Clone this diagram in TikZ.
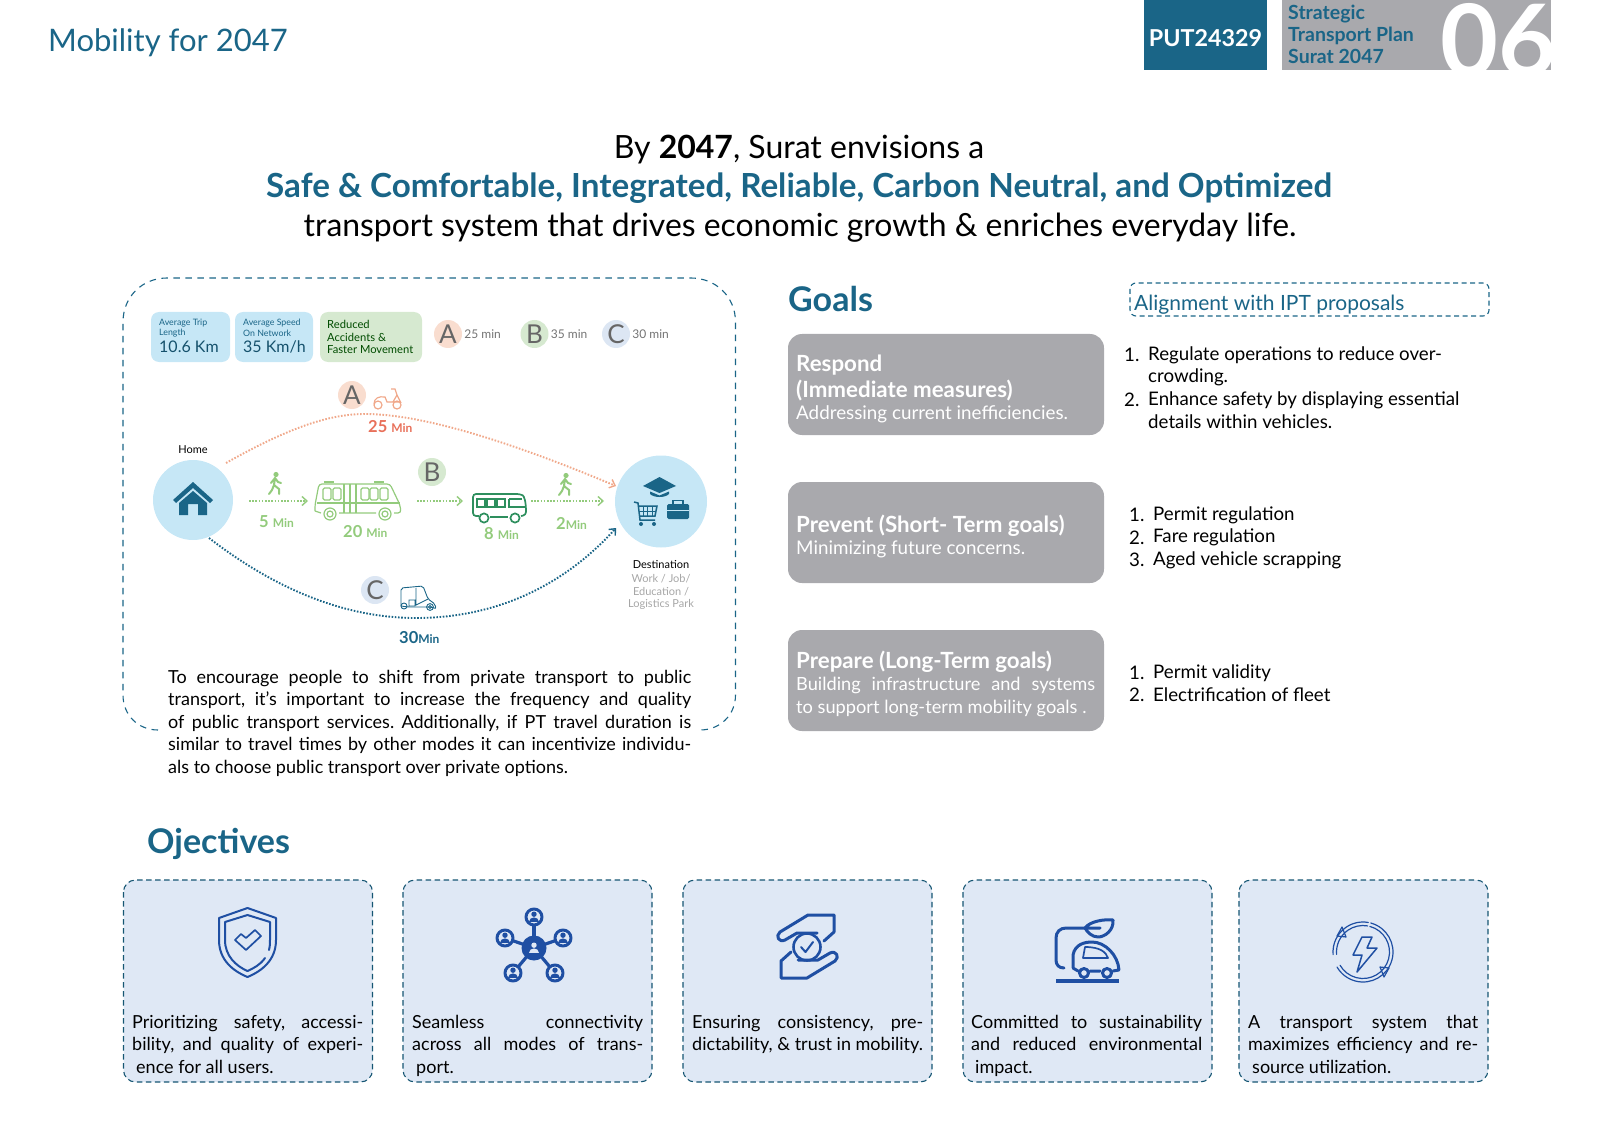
\documentclass[tikz,border=0pt]{standalone}
\usepackage{fontspec}
\usetikzlibrary{arrows.meta}
\setmainfont{Lato}
\definecolor{tealMain}{HTML}{1A6587}
\definecolor{greyBox}{HTML}{A9A9AD}
\definecolor{skyCard}{HTML}{C6E7F6}
\definecolor{greenCard}{HTML}{D6E9D0}
\definecolor{peachDot}{HTML}{F9DDCF}
\definecolor{blueDot}{HTML}{DCE6F3}
\definecolor{blueCard}{HTML}{DFE8F5}
\definecolor{routeA}{HTML}{F0A88A}
\definecolor{routeB}{HTML}{93CB7C}
\definecolor{timeRed}{HTML}{E8705A}
\definecolor{iconBlue}{HTML}{1F4FA3}
\definecolor{darkGreen}{HTML}{2E8F5E}
\newcommand\pxfont[2]{\fontsize{#1}{#2}\selectfont}
\newcommand\cardTop{880}
\newcommand\cardBot{1082}
\newcommand\cardWidth{249}
\newcommand\walker[1]{\begin{scope}[shift={#1}]
    \fill[routeB] (7,2.5) circle (2.6);
    \draw[routeB,line width=2,line cap=round] (6,6) -- (5,13) -- (10,17) -- (10,22) (5,13) -- (3,18) -- (0,22) (6,6) -- (2,11) (6,6) -- (9,10) -- (12,11);
  \end{scope}}
\newcommand\person[3]{% x, y, colour
    \fill[#3] (#1,#2-2.8) circle (2.7);
    \fill[#3] (#1-4.8,#2+4.6) .. controls (#1-4.8,#2-.8) and (#1+4.8,#2-.8) .. (#1+4.8,#2+4.6) -- cycle;}
\newcommand\handShape{(834,915) -- (808,915) -- (780,932) .. controls (775,936) and (779,943) .. (785,940) -- (797,933) -- (817,933) (834,915) -- (834,932) -- (824,941)}
\tikzset{
  txt/.style={inner sep=0pt,anchor=west,yshift=-2pt},
  ctr/.style={inner sep=0pt,anchor=center,yshift=-2pt},
  route/.style={line width=1.9,dash pattern=on 1.6pt off 1.6pt,>={Straight Barb[length=5pt,width=9pt,line width=1.4pt]}},
  letterdot/.style={circle,inner sep=0pt,minimum size=28,text=black!60,font=\pxfont{26}{26}},
  infocard/.style={rounded corners=8,fill=#1},
  goalbox/.style={rounded corners=14,fill=greyBox},
  objcard/.style={rounded corners=12,fill=blueCard,draw=tealMain!85!black,line width=1.1,dash pattern=on 5.5pt off 3.5pt},
  objtext/.style={inner sep=0pt,anchor=north west,text width=231,align=justify,font=\pxfont{18}{22.4}},
  icon/.style={iconBlue,line width=2.6,line join=round,line cap=round}
}
\begin{document}
\frenchspacing
\begin{tikzpicture}[x=1pt,y=-1pt]
  \useasboundingbox (0,0) rectangle (1600,1131);
  \tolerance=9999

  % HEADER
  \node[txt,text=tealMain,font=\pxfont{31}{31}] (pageTitle) at (48,41) {Mobility for 2047};
  \fill[tealMain] (1144,0) rectangle (1267,70);
  \node[ctr,text=white,font=\pxfont{23.3}{23.3}\bfseries] (codeTag) at (1205.5,36) {PUT24329};
  \fill[greyBox] (1282,0) rectangle (1551,70);
  \foreach \Lnumber/\Ly/\Ltext in {1/12/Strategic,2/34/Transport Plan,3/54/Surat 2047}{
    \node[txt,text=tealMain,font=\pxfont{19.5}{19.5}\bfseries] (planLine\Lnumber) at (1288,\Ly) {\Ltext};
  }
  \begin{scope}
    \clip (1282,0) rectangle (1551,70);
    \node[txt,text=white,font=\pxfont{100}{100}\bfseries] (chapterNo) at (1440,38) {06};
  \end{scope}

  % HEADLINE
  \node[ctr,font=\pxfont{32}{32}] (headOne) at (799,148) {By \textbf{2047}, Surat envisions a};
  \node[ctr,text=tealMain,font=\pxfont{33.2}{33.2}\bfseries] (headTwo) at (799,186) {Safe \& Comfortable, Integrated, Reliable, Carbon Neutral, and Optimized};
  \node[ctr,font=\pxfont{31.9}{31.9}] (headThree) at (800,225.5) {transport system that drives economic growth \& enriches everyday life.};

  % BIG DASHED FRAME
  \draw[tealMain,line width=1.1,dash pattern=on 6.5pt off 5.5pt] (158,730) .. controls (138,730) and (123,715) .. (123,695) -- (123,322) .. controls (123,297) and (142,278) .. (167,278) -- (691,278) .. controls (716,278) and (735.5,297) .. (735.5,322) -- (735.5,695) .. controls (735.5,715) and (720,730) .. (700,730);

  % INFO CARDS
  \fill[infocard=skyCard] (151,312) rectangle (230,362);
  \fill[infocard=skyCard] (235,312) rectangle (313,362);
  \fill[infocard=greenCard] (320,312) rectangle (422,362);
  \foreach \Cname/\Cx/\Cone/\Ctwo/\Cval in {trip/159/Average Trip/Length/10.6 Km,speed/243/Average Speed/On Network/{35 Km/h}}{
    \node[txt,text=tealMain,font=\pxfont{8.8}{8.8}] (\Cname One) at (\Cx,321) {\Cone};
    \node[txt,text=tealMain,font=\pxfont{8.8}{8.8}] (\Cname Two) at (\Cx,331) {\Ctwo};
    \node[txt,text=tealMain!80!black,font=\pxfont{16}{16}] (\Cname Val) at (\Cx,345) {\Cval};
  }
  \foreach \Rnumber/\Ry/\Rtext in {1/322/Reduced,2/335/Accidents \&,3/348/Faster Movement}{
    \node[txt,text=green!30!black,font=\pxfont{11.2}{11.2}] (reduced\Rnumber) at (327,\Ry) {\Rtext};
  }

  % LEGEND
  \foreach \Dname/\Dx/\Dfill/\Dtime in {A/448/peachDot/25,B/534.5/greenCard/35,C/616/blueDot/30}{
    \node[letterdot,fill=\Dfill] (legend\Dname) at (\Dx,334) {\Dname};
    \node[inner sep=0pt,anchor=west,text=black!55,font=\pxfont{12}{12},right=2pt] (legendTime\Dname) at (legend\Dname.east) {\Dtime{} min};
  }

  % HOME AND DESTINATION
  \node[circle,fill=skyCard,minimum size=80,inner sep=0pt] (home) at (193,500) {};
  \node[circle,fill=skyCard,minimum size=92,inner sep=0pt] (dest) at (661,501.5) {};
  \node[ctr,font=\pxfont{11}{11}] (homeLabel) at (193,448) {Home};
  \node[ctr,font=\pxfont{11}{11}] (destLabel) at (661,563) {Destination};
  \foreach \Lnumber/\Ly/\Ltext in {1/576.5/{Work / Job/},2/589.5/{Education /},3/602.5/Logistics Park}{
    \node[ctr,text=black!35,font=\pxfont{11}{11}] (destLine\Lnumber) at (661,\Ly) {\Ltext};
  }
  % house
  \fill[tealMain] (193,482) -- (213,500) -- (210,503) -- (193,488) -- (176,503) -- (173,500) -- cycle;
  \fill[tealMain] (179,503) -- (193,491) -- (207,503) -- (207,515) -- (198,515) -- (198,504) -- (188,504) -- (188,515) -- (179,515) -- cycle;
  % graduation cap, cart, case
  \fill[tealMain] (643,486) -- (659.5,477) -- (676,486) -- (659.5,493) -- cycle;
  \fill[tealMain] (650,491.5) -- (659.5,495.5) -- (669,491.5) -- (669,494) .. controls (665,498) and (654,498) .. (650,494) -- cycle;
  \draw[tealMain,line width=1.5] (634,502) -- (638,503) -- (640,520) -- (655,520) (638.5,506) -- (657,506) -- (655,516) -- (639.5,516);
  \draw[tealMain,line width=.8] (643,506) -- (643,516) (647.5,506) -- (647.5,516) (652,506) -- (652,516) (639,511) -- (656,511);
  \fill[tealMain] (641,524) circle (2) (654,524) circle (2);
  \fill[tealMain,rounded corners=1.5] (667,504) rectangle (689,519);
  \draw[tealMain,line width=1.4] (673,504) -- (673,500.5) -- (683,500.5) -- (683,504);
  \draw[skyCard,line width=.9] (667,510.5) -- (689,510.5);

  % ROUTE A
  \coordinate (startA) at (226,463);
  \coordinate (midA) at (365,414);
  \coordinate (endA) at (616,486);
  \draw[route,routeA,->] (startA) .. controls (290,427) and (330,414) .. (midA) .. controls (430,414) and (530,450) .. (endA);
  \node[letterdot,fill=peachDot] (routeDotA) at (352,395) {A};
  \node[txt,text=timeRed,font=\pxfont{16.5}{16.5}\bfseries] (timeA) at (368,425) {25 \pxfont{12}{12}Min};
  % moped
  \begin{scope}[routeA,line width=1.2,shift={(373,388)}]
    \draw (5,17) circle (4) (24,17) circle (4);
    \draw (1,16) .. controls (1,10) and (6,8) .. (12,9) -- (14,14) -- (20,14) -- (24,7) -- (22,1) -- (18,1);
    \draw (20,14) -- (27,14) (24,7) -- (28,15);
  \end{scope}

  % ROUTE B
  \coordinate (walkOneFrom) at (249,501);
  \coordinate (walkOneTo) at (308,501);
  \coordinate (busFrom) at (417,501);
  \coordinate (busTo) at (463,501);
  \coordinate (walkTwoFrom) at (531,501);
  \coordinate (walkTwoTo) at (604,501);
  \draw[route,routeB,->] (walkOneFrom) -- (walkOneTo);
  \draw[route,routeB,->] (busFrom) -- (busTo);
  \draw[route,routeB,->] (walkTwoFrom) -- (walkTwoTo);
  \walker{(269,472)}
  \walker{(559,473)}
  \node[letterdot,fill=greenCard] (routeDotB) at (432,472) {B};
  \foreach \Tname/\Tx/\Ty/\Tmain/\Tgap in {one/259/520/5/\ ,two/343/530/20/\ ,three/484/532/8/\ ,four/556/521/2/}{
    \node[txt,text=routeB,font=\pxfont{16.5}{16.5}\bfseries] (timeB\Tname) at (\Tx,\Ty) {\Tmain\Tgap\pxfont{12}{12}Min};
  }
  % big bus
  \begin{scope}[routeB,line width=1.2,shift={(314,481)}]
    \draw[rounded corners=3] (1,30) -- (1,24) -- (5,3) -- (76,3) -- (86,24) -- (87,32) -- (80,32) (62,32) -- (25,32) (7,32) -- (1,30);
    \draw (3,22) -- (86,22);
    \draw (10,1) -- (20,1) (60,1) -- (70,1);
    \foreach \Wx in {9,19,47,56,66}{ \draw[rounded corners=1.5] (\Wx,7) rectangle +(8,12); }
    \draw (30,3) -- (30,32) (36,3) -- (36,32) (42,3) -- (42,32);
    \draw (16,33) circle (6) (16,33) circle (3) (71,33) circle (6) (71,33) circle (3);
  \end{scope}
  % small bus
  \begin{scope}[darkGreen,line width=1.7,shift={(472,493)}]
    \draw[rounded corners=3] (7,23) -- (1,23) -- (1,1) -- (48,1) .. controls (52,3) and (54,8) .. (54,22) -- (49,23);
    \draw (18,24) -- (36,24);
    \draw (12,25) circle (4.6) (43,25) circle (4.6);
    \foreach \Wx in {5,15,25}{ \draw[line width=1.3] (\Wx,6) rectangle +(8,8); }
    \draw[line width=1.3] (37,6) -- (50,6) (37,6) -- (37,14) -- (53,14);
  \end{scope}

  % ROUTE C
  \coordinate (startC) at (209,538);
  \coordinate (midC) at (416,618);
  \coordinate (endC) at (616,528);
  \draw[route,tealMain,->] (startC) .. controls (270,585) and (340,618) .. (midC) .. controls (490,618) and (560,590) .. (endC);
  \node[letterdot,fill=blueDot] (routeDotC) at (375,590) {C};
  \node[txt,text=tealMain,font=\pxfont{16.5}{16.5}\bfseries] (timeC) at (399,636) {30\pxfont{12}{12}Min};
  % rickshaw
  \begin{scope}[tealMain,line width=.9,shift={(399,585)}]
    \draw[rounded corners=2] (2,21) -- (2,3) -- (24,1) -- (29,14) -- (36,19) -- (37,24) -- (33,22) -- (9,22) -- (2,21);
    \draw (5,21) circle (3) (31,22) circle (3.4) (31,22) circle (1.6) (17,3) -- (17,20) -- (29,14) (10,15) rectangle (16,21);
  \end{scope}

  % BODY TEXT
  \node[inner sep=0pt,anchor=north west,text width=523,align=justify,font=\pxfont{18}{22.5}] (bodyText) at (168,670) {To encourage people to shift from private transport to public\linebreak transport, it's important to increase the frequency and quality\linebreak of public transport services. Additionally, if PT travel duration is\linebreak similar to travel times by other modes it can incentivize individu-\linebreak als to choose public transport over private options.};

  % GOALS
  \node[txt,yshift=2pt,text=tealMain,font=\pxfont{34}{34}\bfseries] (goalsTitle) at (788,299) {Goals};
  \draw[tealMain,line width=1.1,dash pattern=on 5pt off 3.5pt,rounded corners=6] (1130,283) rectangle (1489,316);
  \node[txt,text=tealMain,font=\pxfont{21}{21}] (alignTitle) at (1134,303) {Alignment with IPT proposals};
  \foreach \Bname/\Btop in {respond/334,prevent/482,prepare/630}{
    \fill[goalbox] (788,\Btop) rectangle (1104,\Btop+101);
  }
  \node[txt,text=white,font=\pxfont{22.3}{22.3}\bfseries] (respondOne) at (796,363) {Respond};
  \node[txt,text=white,font=\pxfont{22.3}{22.3}\bfseries] (respondTwo) at (796,388.5) {(Immediate measures)};
  \node[txt,text=white,font=\pxfont{18.8}{18.8}] (respondThree) at (796,412) {Addressing current inefficiencies.};
  \node[txt,text=white,font=\pxfont{22.3}{22.3}\bfseries] (preventOne) at (796,524) {Prevent (Short- Term goals)};
  \node[txt,text=white,font=\pxfont{18.8}{18.8}] (preventTwo) at (796,547) {Minimizing future concerns.};
  \node[txt,text=white,font=\pxfont{22.3}{22.3}\bfseries] (prepareOne) at (796,660) {Prepare (Long-Term goals)};
  \node[inner sep=0pt,anchor=north west,text=white,text width=299,align=justify,font=\pxfont{18.2}{22.4}] (prepareTwo) at (796,677) {Building infrastructure and systems\linebreak to support long-term mobility goals .};

  % ALIGNMENT LISTS
  \foreach \Lname/\Lnum/\Lx/\Ly/\Ltext in {a/1./1124/353/Regulate operations to reduce over-,b//1124/375.5/crowding.,c/2./1124/398/Enhance safety by displaying essential,d//1124/420/details within vehicles.,e/1./1129/513/Permit regulation,f/2./1129/535.5/Fare regulation,g/3./1129/558/Aged vehicle scrapping,h/1./1129/671/Permit validity,i/2./1129/693/Electrification of fleet}{
    \node[txt,font=\pxfont{18.7}{18.7}] (listNo\Lname) at (\Lx,\Ly) {\Lnum};
    \node[txt,font=\pxfont{18.7}{18.7}] (listText\Lname) at (\Lx+24,\Ly) {\Ltext};
  }

  % OBJECTIVES
  \node[txt,text=tealMain,font=\pxfont{34}{34}\bfseries] (objTitle) at (147,842) {Ojectives};
  \foreach \Onumber/\Ox in {1/123.5,2/403,3/683,4/963,5/1239}{
    \draw[objcard] (\Ox,\cardTop) rectangle (\Ox+\cardWidth,\cardBot);
  }
  \node[objtext] (objOne) at (132,1015) {Prioritizing safety, accessi-\linebreak bility, and quality of experi-\linebreak\hspace*{4pt}ence for all users.};
  \node[objtext] (objTwo) at (412,1015) {Seamless connectivity\linebreak across all modes of trans-\linebreak\hspace*{4pt}port.};
  \node[objtext] (objThree) at (692,1015) {Ensuring consistency, pre-\linebreak dictability, \& trust in mobility.};
  \node[objtext] (objFour) at (971,1015) {Committed to sustainability\linebreak and reduced environmental\linebreak\hspace*{4pt}impact.};
  \node[objtext,text width=230] (objFive) at (1248,1015) {A transport system that\linebreak maximizes efficiency and re-\linebreak\hspace*{4pt}source utilization.};

  % shield icon
  \draw[icon,line width=2] (247.5,908) -- (276,918) -- (276,940) .. controls (276,960) and (262,971) .. (247.5,977) .. controls (233,971) and (219,960) .. (219,940) -- (219,918) -- cycle;
  \draw[icon,line width=2] (265,958) .. controls (260,965) and (254,968) .. (247.5,971) .. controls (236,966) and (225,956) .. (225,940) -- (225,922) -- (247.5,915) -- (270,922) -- (270,940) .. controls (270,943) and (270,946) .. (269,950);
  \draw[icon,line width=1.7] (235,940) -- (241,934) -- (246,938) -- (255,930) -- (261,936) -- (246,950) -- cycle;

  % network icon
  \foreach \Nx/\Ny in {534/917,505/938,563/938,513/973,555/973}{
    \draw[icon,line width=3.2] (534,948) -- (\Nx,\Ny);
    \filldraw[icon,fill=blueCard,line width=3] (\Nx,\Ny) circle (8);
    \person{\Nx}{\Ny}{iconBlue}
  }
  \fill[iconBlue] (534,948) circle (12.5);
  \person{534}{948}{blueCard}

  % hands icon
  \draw[icon] (807,947) circle (13.5);
  \draw[icon,line width=2] (801,947) -- (805.5,952) -- (813,942);
  \draw[icon,line width=3] \handShape;
  \draw[icon,line width=3,rotate around={180:(807.5,946.5)}] \handShape;

  % car icon
  \draw[icon,line width=3] (1085,928) -- (1066,928) .. controls (1060,928) and (1056,932) .. (1056,938) -- (1056,960) .. controls (1056,965) and (1059,968) .. (1064,968);
  \draw[icon,line width=3] (1085,928) .. controls (1090,921) and (1105,919) .. (1113,920) .. controls (1114,930) and (1105,937) .. (1098,937) .. controls (1092,937) and (1087,932) .. (1085,928) -- (1100,928);
  \draw[icon,line width=3] (1073,968) -- (1073,955) .. controls (1075,944) and (1085,942) .. (1092,942) .. controls (1105,942) and (1118,955) .. (1119,970) -- (1113,971) (1100,971) -- (1090,971) (1078,971) -- (1073,968);
  \draw[icon,line width=1.7] (1085,947) -- (1083,958) -- (1108,958) .. controls (1106,952) and (1100,947) .. (1085,947);
  \draw[icon,line width=3] (1084,973) circle (4.5) (1107,973) circle (4.5);
  \draw[icon,line width=3.4,line cap=butt] (1056,981) -- (1119,981);

  % energy icon
  \draw[icon,line width=1.2] (1363,952) ++(-75:30) arc (-75:150:30) (1363,952) ++(-75:26.5) arc (-75:150:26.5);
  \draw[icon,line width=1.2] (1363,952) ++(175:30) arc (175:280:30) (1363,952) ++(175:26.5) arc (175:280:26.5);
  \draw[icon,line width=1.2] (1337,936) -- (1342,927) -- (1346,937) -- cycle;
  \draw[icon,line width=1.2] (1389,968) -- (1384,977) -- (1380,967) -- cycle;
  \draw[icon,line width=1.5] (1362,937) -- (1353,955) -- (1362,955) -- (1357,972) -- (1377,948) -- (1367,948) -- (1372,937) -- cycle;
\end{tikzpicture}
\end{document}
